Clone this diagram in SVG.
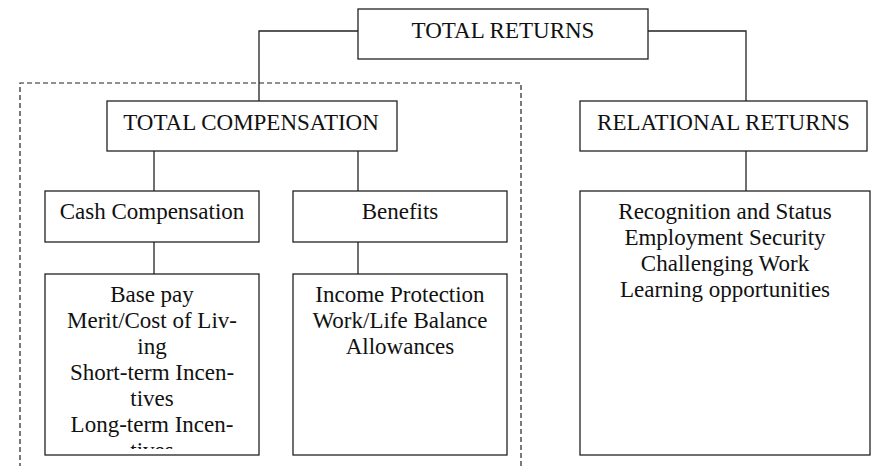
<svg xmlns="http://www.w3.org/2000/svg" width="874" height="466" viewBox="0 0 874 466">
<style>
.box{fill:#fff;stroke:#222;stroke-width:1.3}
.ln{fill:none;stroke:#222;stroke-width:1.3}
.dash{fill:none;stroke:#222;stroke-width:1.2;stroke-dasharray:5 3}
text{font-family:"Liberation Serif","Times New Roman",serif;font-size:23px;fill:#111;text-anchor:middle}
</style>
<defs>
<clipPath id="clipBase"><rect x="46" y="275" width="212" height="174"/></clipPath>
</defs>
<rect width="874" height="466" fill="#fff"/>
<path class="dash" d="M521 466 V83 H20 V466"/>
<g id="connectors">
<path class="ln" d="M358 31 H259 V101"/>
<path class="ln" d="M648 31 H746 V101"/>
<path class="ln" d="M154 151 V191"/>
<path class="ln" d="M358 151 V191"/>
<path class="ln" d="M154 242 V274"/>
<path class="ln" d="M358 242 V274"/>
<path class="ln" d="M746 151 V191"/>
</g>
<g id="total-returns">
<rect class="box" x="358" y="9" width="290" height="50"/>
<text x="503" y="38">TOTAL RETURNS</text>
</g>
<g id="total-compensation">
<rect class="box" x="107" y="101" width="290" height="50"/>
<text x="251" y="130">TOTAL COMPENSATION</text>
</g>
<g id="relational-returns">
<rect class="box" x="580" y="101" width="287" height="50"/>
<text x="723.5" y="130">RELATIONAL RETURNS</text>
</g>
<g id="cash-compensation">
<rect class="box" x="45" y="191" width="214" height="51"/>
<text x="152" y="219">Cash Compensation</text>
</g>
<g id="benefits">
<rect class="box" x="293" y="191" width="214" height="51"/>
<text x="400" y="219">Benefits</text>
</g>
<g id="cash-items">
<rect class="box" x="45" y="274" width="214" height="181"/>
<g clip-path="url(#clipBase)">
<text x="152" y="302">Base pay</text>
<text x="152" y="328">Merit/Cost of Liv-</text>
<text x="152" y="354">ing</text>
<text x="152" y="380">Short-term Incen-</text>
<text x="152" y="406">tives</text>
<text x="152" y="432">Long-term Incen-</text>
<text x="152" y="458">tives</text>
</g>
</g>
<g id="benefit-items">
<rect class="box" x="293" y="274" width="214" height="181"/>
<text x="400" y="302">Income Protection</text>
<text x="400" y="328">Work/Life Balance</text>
<text x="400" y="354">Allowances</text>
</g>
<g id="relational-items">
<rect class="box" x="580" y="191" width="290" height="264"/>
<text x="725" y="219">Recognition and Status</text>
<text x="725" y="245">Employment Security</text>
<text x="725" y="271">Challenging Work</text>
<text x="725" y="297">Learning opportunities</text>
</g>
</svg>
